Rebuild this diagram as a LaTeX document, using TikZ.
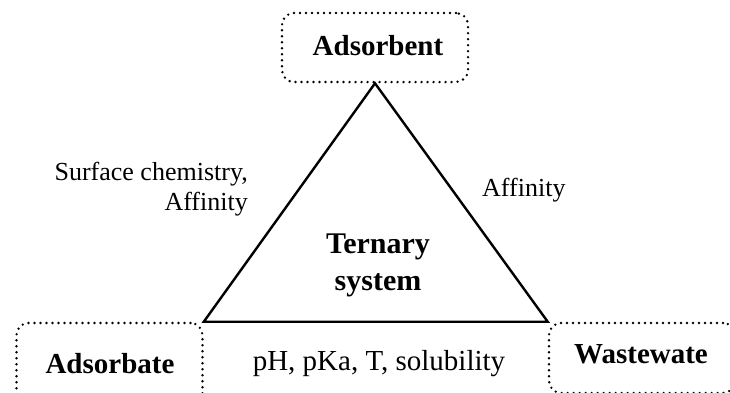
\documentclass[tikz,border=0pt]{standalone}
\usepackage{fontspec}
\setmainfont{Liberation Serif}
\usepackage{tikz}
\usetikzlibrary{positioning}

\tikzset{
  dotbox/.style={draw, line width=2.6pt, dash pattern=on 0pt off 6pt, line cap=round,
    rounded corners=12pt, minimum width=186pt, minimum height=69pt, inner sep=0pt},
  boxtext/.style={font=\fontsize{29}{33}\selectfont\bfseries},
  sidetext/.style={font=\fontsize{26}{30}\selectfont, inner sep=0pt}
}

\begin{document}
\begin{tikzpicture}[x=1pt, y=-1pt]
    \useasboundingbox (0,0) rectangle (730,392);
    % corner boxes
    \node[dotbox] (Adsorbent) at (375,47.5) {};
    \node[dotbox, minimum height=82pt] (Adsorbate) at (109.5,364) {};
    \node[dotbox, minimum height=70pt] (Wastewater) at (642,358) {};
    \node[boxtext, anchor=base] at (378,55) {Adsorbent};
    \node[boxtext, anchor=base] at (110,373) {Adsorbate};
    \node[boxtext, anchor=base] at (641,363) {Wastewate};
    % triangle
    \draw[line width=2.4pt, line join=miter] (Adsorbent.south) -- (Adsorbate.north east) -- (Wastewater.north west) -- cycle;
    \node[font=\fontsize{30}{37}\selectfont\bfseries, align=center, anchor=base] (T) at (378,290) {Ternary\\system};
    % edge labels
    \node[sidetext, align=right, anchor=base east] (L) at (248,210) {Surface chemistry,\\Affinity};
    \node[sidetext, anchor=base west] (R) at (482,196) {Affinity};
    \node[sidetext, font=\fontsize{29}{33}\selectfont, anchor=base] (B) at (379,370) {pH, pKa, T, solubility};
\end{tikzpicture}
\end{document}
